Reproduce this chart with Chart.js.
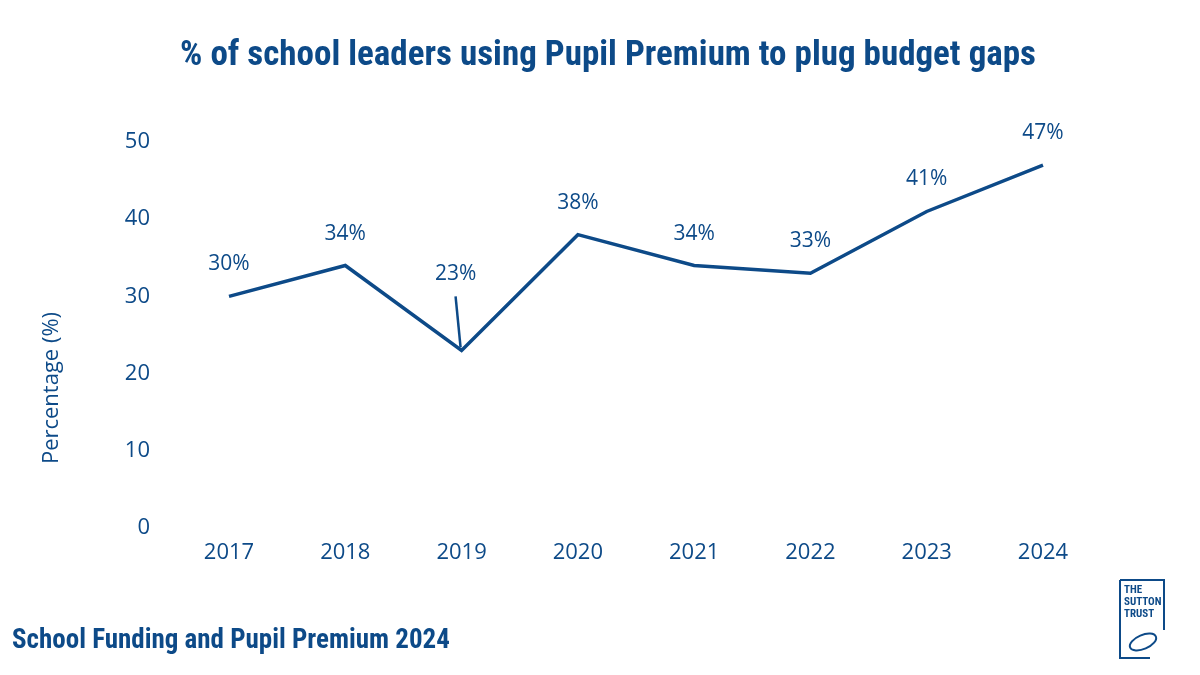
<!DOCTYPE html>
<html><head><meta charset="utf-8">
<script src="https://cdn.jsdelivr.net/npm/chart.js@4"></script>
<style>html,body{margin:0;padding:0;background:#fff}#w{width:1200px;height:675px}</style>
</head><body><div id="w"><canvas id="c"></canvas></div>
<script>
const years = ['2017','2018','2019','2020','2021','2022','2023','2024'];
const values = [30,34,23,38,34,33,41,47];
const yTicks = [0,10,20,30,40,50];
const titleText = '% of school leaders using Pupil Premium to plug budget gaps';
const footerText = 'School Funding and Pupil Premium 2024';
const yTitle = 'Percentage (%)';
const BLUE = '#0d4a88';
const labelOffsets = [[0,-32],[0,-32],[-6,-76],[0,-32],[0,-32],[0,-32],[0,-32],[0,-32]];
const COND = '"Roboto Condensed", "Liberation Sans Narrow", sans-serif';

const deco = {
  id:'deco',
  afterDraw(ch){
    const c = ch.ctx; c.save();
    c.fillStyle = BLUE; c.textAlign='center'; c.textBaseline='middle';
    c.font = 'bold 35px ' + COND;
    c.fillText(titleText, 608, 56);
    c.textAlign='left';
    c.font = 'bold 27px ' + COND;
    c.fillText(footerText, 12, 641);
    c.save(); c.translate(52, 388); c.rotate(-Math.PI/2); c.textAlign='center';
    c.font = '22px "Open Sans", sans-serif'; c.fillText(yTitle, 0, 0); c.restore();
    const meta = ch.getDatasetMeta(0);
    c.textAlign='center'; c.font = '21px "Open Sans", sans-serif';
    meta.data.forEach((p,i)=>{
      const [dx,dy] = labelOffsets[i];
      c.fillText(values[i]+'%', p.x+dx, p.y+dy);
    });
    const p = meta.data[2];
    c.strokeStyle = BLUE; c.lineWidth = 2.5; c.beginPath();
    c.moveTo(p.x-6, p.y-54); c.lineTo(p.x-1, p.y-3); c.stroke();
    c.textAlign='left'; c.font = 'bold 11px ' + COND;
    c.fillText('THE', 1124, 590); c.fillText('SUTTON', 1124, 602); c.fillText('TRUST', 1124, 614);
    c.lineWidth = 2;
    c.beginPath(); c.moveTo(1120,580); c.lineTo(1164,580); c.lineTo(1164,630); c.moveTo(1120,580); c.lineTo(1120,658); c.lineTo(1150,658); c.stroke();
    c.beginPath(); c.ellipse(1143, 642, 14, 7, -0.4, 0, Math.PI*2); c.stroke();
    c.restore();
  }
};

new Chart(document.getElementById('c'), {
  type:'line',
  data:{labels:years, datasets:[{data:values, borderColor:BLUE, borderWidth:3.5, pointRadius:0, tension:0, fill:false}]},
  options:{
    responsive:true, maintainAspectRatio:false, animation:false,
    layout:{padding:{top:142,right:157,left:0,bottom:0}},
    plugins:{legend:{display:false}, tooltip:{enabled:false}},
    scales:{
      x:{offset:false, grid:{display:false,drawTicks:false}, border:{display:false},
         ticks:{color:BLUE, font:{size:22,family:'"Open Sans", sans-serif'}, padding:12, maxRotation:0},
         afterFit(s){s.height=147;}},
      y:{min:0,max:50, grid:{display:false,drawTicks:false}, border:{display:false},
         afterBuildTicks(s){s.ticks = yTicks.map(v=>({value:v}));},
         ticks:{color:BLUE, font:{size:22,family:'"Open Sans", sans-serif'}, padding:79},
         afterFit(s){s.width=229;}}
    }
  },
  plugins:[deco]
});
</script></body></html>
